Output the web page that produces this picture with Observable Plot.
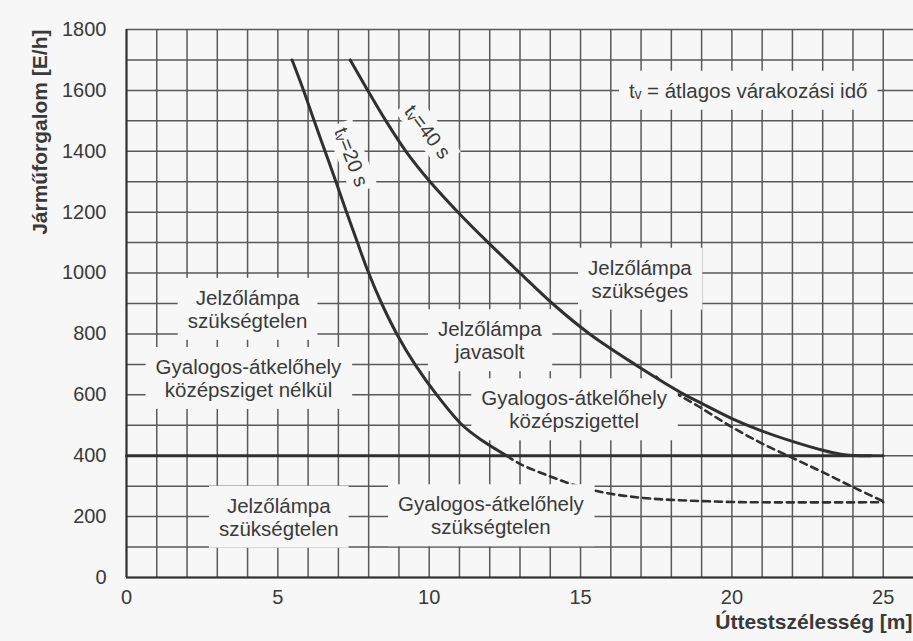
<!DOCTYPE html>
<html>
<head>
<meta charset="utf-8">
<script src="https://cdn.jsdelivr.net/npm/d3@7"></script>
<script src="https://cdn.jsdelivr.net/npm/@observablehq/plot@0.6"></script>
<style>
  html, body { margin: 0; padding: 0; background: #f7f7f7; }
  #chart svg { display: block; }
</style>
</head>
<body>
<div id="chart"></div>
<script>
// ---- data ----
const xGridValues = [0,1,2,3,4,5,6,7,8,9,10,11,12,13,14,15,16,17,18,19,20,21,22,23,24,25];
const yGridValues = [0,100,200,300,400,500,600,700,800,900,1000,1100,1200,1300,1400,1500,1600,1700,1800];
const xTickValues = [0,5,10,15,20,25];
const yTickValues = [0,200,400,600,800,1000,1200,1400,1600,1800];

// t_v = 20 s curve
const t20X = [5.47,5.85,6.2,6.56,6.92,7.27,7.63,8.0,8.43,8.93,9.53,10.25,11.1,11.75,12.56];
const t20Y = [1700,1600,1500,1400,1300,1200,1100,1000,900,800,700,600,500,450,400];
// t_v = 40 s curve
const t40X = [7.39,7.97,8.57,9.23,10.03,10.95,11.95,13.0,14.07,15.3,16.8,18.45,19.0,20.0,21.0,22.0,23.0,23.6,24.2,24.6];
const t40Y = [1700,1600,1500,1400,1300,1200,1100,1000,900,800,700,600,572,522,481,447,418,405,400,400];
// dashed continuations
const d20X = [12.56,13,14,15,16,17,18,19,20,21,25];
const d20Y = [400,373,332,297,275,262,255,251,248,247,247];
const d40X = [17.5,18,19,20,21,22,23,24,25];
const d40Y = [660,616,556,494,440,393,346,297,250];
// 400 E/h threshold line
const thresholdX = [0, 25];
const thresholdY = [400, 400];

// region labels
const labelText = [
  "Jelzőlámpa\nszükségtelen",
  "Gyalogos-átkelőhely\nközépsziget nélkül",
  "Jelzőlámpa\njavasolt",
  "Jelzőlámpa\nszükséges",
  "Gyalogos-átkelőhely\nközépszigettel",
  "Jelzőlámpa\nszükségtelen",
  "Gyalogos-átkelőhely\nszükségtelen",
  "tᵥ = átlagos várakozási idő"
];
const labelX = [4.0, 4.03, 12.0, 16.96, 14.79, 5.03, 12.04, 20.54];
const labelY = [882, 655, 779, 981, 552, 199, 204, 1600];

// curve labels
const curveLabelText = ["tᵥ=20 s", "tᵥ=40 s"];
const curveLabelX = [7.42, 9.94];
const curveLabelY = [1381, 1463];
const curveLabelAngle = [69, 52.5];

const yTitle = "Járműforgalom [E/h]";
const xTitle = "Úttestszélesség [m]";

// ---- build ----
const bg = "#f7f7f7";
const ink = "#3a3a3a";
const lineInk = "#303030";
const gridInk = "#595959";

const pts = (xs, ys) => xs.map((x, i) => ({x, y: ys[i]}));
const labels = labelText.map((t, i) => ({t, x: labelX[i], y: labelY[i]}));
const curveLabels = curveLabelText.map((t, i) => ({t, x: curveLabelX[i], y: curveLabelY[i], a: curveLabelAngle[i]}));

const plot = Plot.plot({
  width: 913,
  height: 641,
  marginLeft: 126,
  marginRight: 0,
  marginTop: 29,
  marginBottom: 64,
  x: {domain: [0, 26]},
  y: {domain: [0, 1800]},
  style: {background: bg, fontFamily: "'Liberation Sans', Arial, sans-serif", color: ink, overflow: "visible"},
  marks: [
    // grid
    Plot.ruleY(yGridValues, {stroke: gridInk, strokeWidth: 1.5}),
    Plot.ruleX(xGridValues, {stroke: gridInk, strokeWidth: 1.5}),
    Plot.ruleX([xGridValues[0]], {stroke: lineInk, strokeWidth: 2}),
    Plot.ruleY([yGridValues[0]], {stroke: lineInk, strokeWidth: 2}),
    // axes
    Plot.axisY(yTickValues, {tickSize: 0, tickPadding: 20, fontSize: 20, label: null, fill: ink, tickFormat: d => String(d)}),
    Plot.axisX(xTickValues, {tickSize: 0, tickPadding: 12, fontSize: 20, label: null, fill: ink, tickFormat: d => String(d)}),
    // dashed lines (partly hidden under label boxes)
    Plot.line(pts(d20X, d20Y), {x: "x", y: "y", stroke: lineInk, strokeWidth: 2.6, strokeDasharray: "7,5", curve: "catmull-rom"}),
    Plot.line(pts(d40X, d40Y), {x: "x", y: "y", stroke: lineInk, strokeWidth: 2.6, strokeDasharray: "7,5", curve: "catmull-rom"}),
    // labels with boxes
    Plot.text(labels, {x: "x", y: "y", text: "t", fontSize: 20.5, lineHeight: 1.12, fill: ink, className: "boxed"}),
    Plot.text(curveLabels, {x: "x", y: "y", text: "t", rotate: "a", fontSize: 20, fill: ink, className: "boxedc"}),
    // solid curves
    Plot.line(pts(thresholdX, thresholdY), {x: "x", y: "y", stroke: lineInk, strokeWidth: 3}),
    Plot.line(pts(t20X, t20Y), {x: "x", y: "y", stroke: lineInk, strokeWidth: 3, curve: "catmull-rom"}),
    Plot.line(pts(t40X, t40Y), {x: "x", y: "y", stroke: lineInk, strokeWidth: 3, curve: "catmull-rom"}),
    // axis titles
    Plot.text([yTitle], {text: d => d, frameAnchor: "top-left", rotate: -90, textAnchor: "end", dx: -94, fontWeight: "bold", fontSize: 21, fill: ink}),
    Plot.text([xTitle], {text: d => d, frameAnchor: "bottom-right", textAnchor: "end", dx: -1, dy: 51, fontWeight: "bold", fontSize: 21, fill: ink})
  ]
});

document.getElementById("chart").append(plot);

// boxes behind labels (sized from the rendered text)
function boxes(selector, padX, padY) {
  d3.select(plot).selectAll(selector + " text").each(function() {
    const b = this.getBBox();
    const r = document.createElementNS("http://www.w3.org/2000/svg", "rect");
    r.setAttribute("x", b.x - padX);
    r.setAttribute("y", b.y - padY);
    r.setAttribute("width", b.width + 2 * padX);
    r.setAttribute("height", b.height + 2 * padY);
    r.setAttribute("fill", bg);
    r.setAttribute("stroke", "none");
    const tr = this.getAttribute("transform");
    if (tr) r.setAttribute("transform", tr);
    this.parentNode.insertBefore(r, this);
  });
}
boxes("g.boxed", 10, 8);
boxes("g.boxedc", 5, 3);
</script>
</body>
</html>
